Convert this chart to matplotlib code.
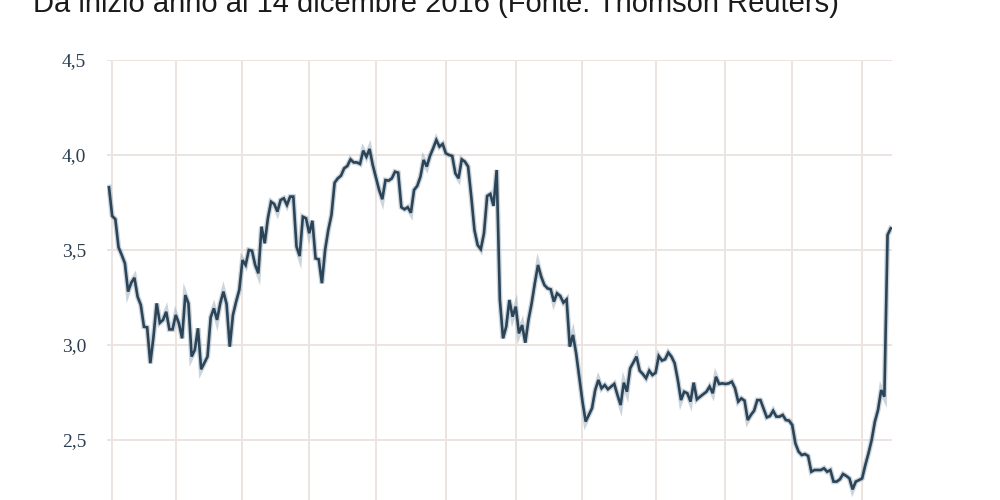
import numpy as np
import pandas as pd
import matplotlib
matplotlib.use('Agg')
import matplotlib.pyplot as plt

# trading days from 31 Dec 2015 to 14 Dec 2016 (no TARGET holidays)
dates = pd.bdate_range('2015-12-31', '2016-12-14')
dates = dates.difference(pd.to_datetime(['2016-01-01', '2016-03-25', '2016-03-28']))

# yield (trading-day number, value)
day = [0, 1, 2, 3, 4, 5, 6, 7, 8, 9, 10, 11, 12, 13, 14, 15, 16, 17, 18, 19,
       20, 21, 22, 23, 24, 25, 26, 27, 28, 29, 31, 32, 33, 34, 35, 36, 37,
       38, 39, 40, 41, 42, 43, 44, 45, 46, 47, 48, 49, 50, 51, 52, 53, 54, 55,
       56, 57, 58, 59, 60, 61, 62, 63, 64, 65, 66, 67, 68, 69, 70, 71, 72, 73,
       74, 75, 76, 77, 78, 79, 80, 81, 82, 83, 85, 86, 87, 88, 89, 90, 91, 92,
       93, 94, 95, 96, 97, 98, 99, 100, 101, 102, 103, 104, 105, 106, 107, 108,
       109, 110, 111, 112, 113, 114, 115, 116,
       117, 118, 119, 120, 121, 122, 123, 124, 125, 126, 127, 128, 129, 130,
       131, 132, 133, 134, 135, 136, 137, 138, 139, 140, 141, 142, 143, 144,
       145, 146, 147, 149, 150, 152, 153, 154, 155, 156, 157, 159, 160, 161,
       162, 163, 164, 166, 167, 168, 169, 170, 171, 172, 173, 174, 175, 176,
       177, 178, 179, 180, 181, 182, 183, 184, 185, 186, 188, 189, 190, 191,
       192, 193, 194, 195, 196, 197,
       198, 199, 200, 201, 202, 203, 204, 205, 207, 208, 209, 210, 211, 212,
       213, 214, 215, 216, 217, 218, 219, 220, 221, 222, 223, 224, 225, 226,
       227, 228, 229, 230, 231, 232, 233, 234, 235, 236, 237, 238, 239, 240,
       241, 242, 243, 244, 245, 246]
rate = [3.830, 3.679, 3.662, 3.514, 3.474, 3.430, 3.281, 3.328, 3.354, 3.254,
        3.211, 3.096, 3.093, 2.904, 3.044, 3.219, 3.117, 3.132, 3.175, 3.082,
        3.082, 3.158, 3.114, 3.035, 3.263, 3.219, 2.939, 2.974, 3.088, 2.872,
        2.939, 3.146, 3.193, 3.132, 3.219, 3.281, 3.216,
        2.991, 3.158, 3.228, 3.290, 3.447, 3.421, 3.500, 3.496, 3.421, 3.377,
        3.623, 3.535, 3.667, 3.754, 3.742, 3.702, 3.763, 3.772, 3.737, 3.781,
        3.781, 3.518, 3.468, 3.675, 3.667, 3.588, 3.654, 3.456, 3.451, 3.325,
        3.500, 3.605, 3.684, 3.854, 3.877, 3.891, 3.930, 3.942, 3.977, 3.961,
        3.961, 3.953, 4.023, 3.991, 4.032, 3.947, 3.816, 3.767, 3.868, 3.865,
        3.877, 3.912, 3.907, 3.725, 3.714, 3.725, 3.696, 3.816, 3.837, 3.886,
        3.974, 3.939, 3.995, 4.035, 4.079, 4.044, 4.058, 4.009, 4.000, 3.995,
        3.903, 3.877, 3.977, 3.965, 3.939, 3.781, 3.605, 3.526,
        3.504, 3.588, 3.784, 3.795, 3.732, 3.921, 3.237, 3.035, 3.097, 3.237,
        3.149, 3.202, 3.061, 3.105, 3.012, 3.132, 3.219, 3.325, 3.421, 3.360,
        3.316, 3.298, 3.293, 3.228, 3.272, 3.258, 3.223, 3.240, 2.991, 3.053,
        2.956, 2.702, 2.597, 2.667, 2.763, 2.816, 2.772, 2.789, 2.767, 2.795,
        2.737, 2.684, 2.802, 2.754, 2.877, 2.939, 2.865, 2.847, 2.825, 2.865,
        2.842, 2.854, 2.942, 2.918, 2.925, 2.960, 2.939, 2.904, 2.816, 2.710,
        2.754, 2.746, 2.702, 2.802, 2.714, 2.728, 2.754, 2.781, 2.746, 2.833,
        2.795, 2.798, 2.795, 2.798, 2.807, 2.772,
        2.702, 2.719, 2.707, 2.605, 2.632, 2.654, 2.710, 2.710, 2.619, 2.626,
        2.654, 2.623, 2.623, 2.632, 2.605, 2.602, 2.579, 2.482, 2.439, 2.421,
        2.426, 2.416, 2.333, 2.342, 2.342, 2.342, 2.351, 2.333, 2.342, 2.281,
        2.281, 2.293, 2.321, 2.311, 2.298, 2.240, 2.281, 2.289, 2.298, 2.368,
        2.430, 2.500, 2.596, 2.658, 2.763, 2.728, 3.579, 3.614]

y_ticks = [2.5, 3.0, 3.5, 4.0, 4.5]
y_labels = ['2,5', '3,0', '3,5', '4,0', '4,5']
title = 'Da inizio anno al 14 dicembre 2016 (Fonte: Thomson Reuters)'

# first trading day of every month of 2016
months = pd.Series(np.arange(len(dates)), index=dates)
months = months[months.index.year == 2016]
month_starts = months.groupby(months.index.month).first().values

line_col = '#2b4457'
grid_col = '#ebe4e0'

fig = plt.figure(figsize=(10, 5), dpi=100)
ax = fig.add_axes([0.107, -0.07, 0.785, 0.95])

ax.plot(day, rate, color='#8fa3b3', lw=3.8, alpha=0.45, solid_joinstyle='miter', zorder=3)
ax.plot(day, rate, color=line_col, lw=1.9, solid_joinstyle='miter', zorder=4)

ax.set_xlim(-0.63, 246.4)
ax.set_ylim(2.0, 4.5)
ax.set_xticks(month_starts)
ax.set_yticks(y_ticks)
ax.set_yticklabels(y_labels, family='Liberation Serif', fontsize=14, color='#2c3e50')
ax.tick_params(axis='x', length=0, labelbottom=False)
ax.tick_params(axis='y', length=0, pad=15)
ax.grid(True, color=grid_col, lw=1.4, zorder=0)
for s in ax.spines.values():
    s.set_visible(False)

fig.text(0.033, 0.976, title, family='Liberation Sans', fontsize=21,
         color='#1a1a1a', va='baseline', ha='left')

fig.savefig('out.png', dpi=100)
